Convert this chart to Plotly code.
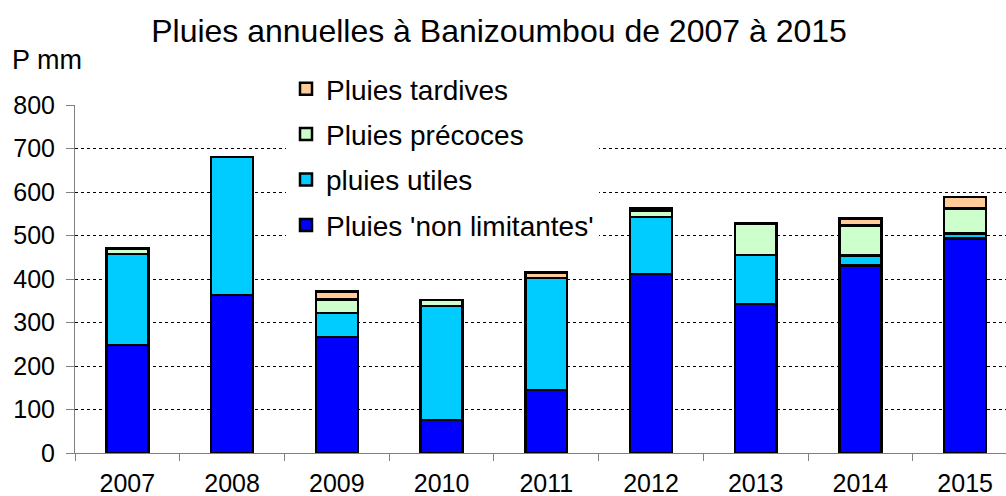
import plotly.graph_objects as go

years = ["2007", "2008", "2009", "2010", "2011", "2012", "2013", "2014", "2015"]
non_limitantes = [248, 363, 267, 76, 145, 411, 342, 431, 493]
utiles = [209, 317, 55, 262, 257, 131, 113, 23, 12]
precoces = [13, 0, 31, 14, 0, 15, 73, 69, 57]
tardives = [0, 0, 18, 0, 13, 6, 0, 16, 27]

series = [
    ("Pluies 'non limitantes'", non_limitantes, "#0000FF"),
    ("pluies utiles", utiles, "#00CCFF"),
    ("Pluies précoces", precoces, "#CCFFCC"),
    ("Pluies tardives", tardives, "#FFCC99"),
]

FONT = "Liberation Sans, Arial, sans-serif"

fig = go.Figure()
for i, (name, vals, col) in enumerate(series):
    fig.add_trace(go.Bar(
        x=years, y=vals, name=name, legendgroup=f"g{i}",
        legendrank=1000 - i,
        marker=dict(color=col, line=dict(color="black", width=2.5)),
    ))

W, H = 1006, 496
L, T, B = 75, 105, 43
pw = W - L
ph = H - T - B

fig.update_layout(
    width=W, height=H,
    margin=dict(l=L, r=0, t=T, b=B, autoexpand=False),
    barmode="stack", bargap=0.6,
    plot_bgcolor="white", paper_bgcolor="white",
    font=dict(family=FONT, size=25, color="black"),
    title=dict(text="Pluies annuelles à Banizoumbou de 2007 à 2015",
               x=499 / W, xref="container", xanchor="center",
               y=1 - 31 / H, yref="container", yanchor="middle",
               font=dict(size=32, family=FONT, color="black")),
    legend=dict(traceorder="grouped", tracegroupgap=6,
                xref="container", x=286 / W, xanchor="left",
                yref="container", y=1 - 64 / H, yanchor="top",
                bgcolor="white", borderwidth=0,
                font=dict(size=28, family=FONT, color="black")),
    showlegend=True,
    xaxis=dict(range=[-0.5, 8.39], automargin=False,
               tickson="boundaries", ticks="outside", ticklen=7,
               tickcolor="#808080", showline=True, linecolor="#808080",
               linewidth=1, showgrid=False, tickfont=dict(size=25),
               ticklabelstandoff=8),
    yaxis=dict(range=[0, 800], dtick=100, ticks="outside", ticklen=8,
               automargin=False,
               tickcolor="#808080", showline=True, linecolor="#808080",
               linewidth=1, showgrid=True, gridcolor="black", gridwidth=1,
               griddash="dot", zeroline=False, tickfont=dict(size=25),
               ticklabelstandoff=6),
    annotations=[dict(text="P mm", xref="paper", yref="paper",
                      x=(10 - L) / pw, xanchor="left",
                      y=1 + (105 - 60) / ph, yanchor="middle",
                      showarrow=False, font=dict(size=27, family=FONT))],
)

fig.write_html("out.html", config={"displayModeBar": False},
               post_script="document.body.style.margin='0';document.body.style.overflow='hidden';")
